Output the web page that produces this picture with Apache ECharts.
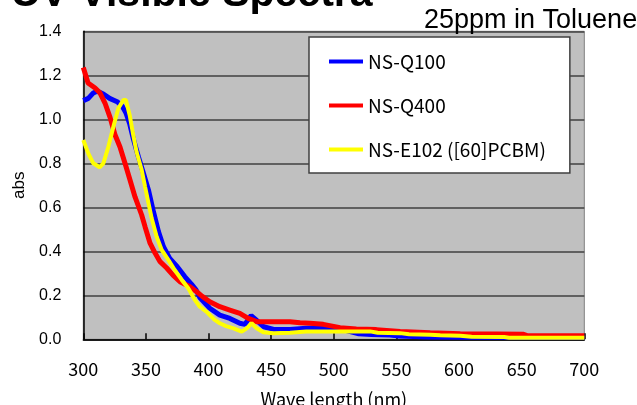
<!DOCTYPE html>
<html>
<head>
<meta charset="utf-8">
<script src="https://cdn.jsdelivr.net/npm/echarts@6/dist/echarts.min.js"></script>
<style>
html,body{margin:0;padding:0;background:#fff;}
#chart{width:637px;height:405px;}
</style>
</head>
<body>
<div id="chart"></div>
<script>
// ---- data ----
var seriesNames = ['NS-Q100', 'NS-Q400', 'NS-E102 ([60]PCBM)'];
var xTicks = [300, 350, 400, 450, 500, 550, 600, 650, 700];
var yTicks = [0, 0.2, 0.4, 0.6, 0.8, 1.0, 1.2, 1.4];

var q100Wave = [300,304,308,311,316,321,327,331,334,337,340,344,348,352,356,360,364,369,375,381,386.5,390,393,401,409,417,425,429,434,438,444,452,465,478,492,500,510,520,530,545,552,575,600,650,700];
var q100Abs  = [1.085,1.095,1.12,1.128,1.115,1.095,1.08,1.06,1.03,0.98,0.91,0.83,0.755,0.679,0.58,0.49,0.421,0.368,0.33,0.285,0.25,0.225,0.19,0.141,0.11,0.095,0.073,0.068,0.108,0.088,0.057,0.045,0.045,0.05,0.052,0.048,0.04,0.025,0.022,0.02,0.015,0.01,0.009,0.008,0.008];

var q400Wave = [300,303.8,309.4,313.3,317.3,321.3,325.3,329.3,333.3,337.3,341.3,346.6,349.3,353.3,357.3,361.3,366.6,371.6,377.2,385.2,390.5,395,401,409,417,425,431.7,438.4,451.7,465,473,481,491.6,505,518,534,553,577,601,630,651,655,700];
var q400Abs  = [1.235,1.165,1.142,1.12,1.074,1.01,0.93,0.874,0.80,0.724,0.647,0.565,0.512,0.437,0.392,0.353,0.324,0.292,0.262,0.239,0.216,0.195,0.171,0.148,0.133,0.118,0.095,0.08,0.08,0.08,0.075,0.073,0.068,0.053,0.047,0.044,0.036,0.03,0.025,0.024,0.023,0.016,0.016];

var e102Wave = [300,304,308,313,316,320,324,328,332,334,337,339.5,342.6,346.6,349.3,352,354.6,358.6,362.6,368,373,378.6,383.8,386,389,393,398.5,401,405,409,414,420,426.5,430.5,434.4,438.4,443.7,451.7,465,478,492,505,529,535,553,560,577,585,601,610,636,640,700];
var e102Abs  = [0.906,0.845,0.80,0.782,0.80,0.875,0.966,1.05,1.088,1.088,1.02,0.94,0.85,0.77,0.694,0.62,0.55,0.466,0.406,0.36,0.315,0.27,0.232,0.21,0.179,0.148,0.125,0.11,0.088,0.073,0.06,0.05,0.035,0.05,0.073,0.05,0.032,0.027,0.03,0.035,0.035,0.036,0.036,0.03,0.028,0.023,0.021,0.018,0.016,0.012,0.01,0.007,0.007];

function pairs(xs, ys) { return xs.map(function (x, i) { return [x, ys[i]]; }); }

var chart = echarts.init(document.getElementById('chart'), null, {renderer: 'canvas'});
var option = {
  animation: false,
  backgroundColor: '#ffffff',
  title: [
    {text: 'UV-Visible Spectra', left: 11, top: -26, padding: 0,
     textStyle: {fontFamily: 'Liberation Sans', fontSize: 41, fontWeight: 'bold', color: '#000'}},
    {text: '25ppm in Toluene', left: 424, top: 7, padding: 0,
     textStyle: {fontFamily: 'Liberation Sans', fontSize: 27, fontWeight: 'normal', color: '#000'}}
  ],
  grid: {left: 83.3, right: 52.7, top: 31.3, bottom: 65.7, show: true,
         outerBoundsMode: 'none', containLabel: false,
         backgroundColor: '#c0c0c0', borderColor: '#808080', borderWidth: 1},
  legend: {
    orient: 'vertical', left: 309, top: 37,
    padding: [15, 24, 14, 20], itemGap: 25, itemWidth: 34, itemHeight: 4,
    icon: 'rect',
    backgroundColor: '#ffffff', borderColor: '#404040', borderWidth: 1.5,
    textStyle: {fontFamily: 'Noto Sans CJK JP', fontSize: 19, color: '#000'},
    data: seriesNames
  },
  xAxis: {
    type: 'value', min: 300, max: 700, interval: 50,
    name: 'Wave length (nm)', nameLocation: 'middle', nameGap: 51,
    nameTextStyle: {fontFamily: 'Noto Sans CJK JP', fontSize: 18, color: '#000'},
    axisLine: {show: true, onZero: false, lineStyle: {color: '#000', width: 1.5}},
    axisTick: {show: true, inside: true, length: 6, lineStyle: {color: '#000', width: 1.5}},
    axisLabel: {fontFamily: 'Noto Sans CJK JP', fontSize: 18, color: '#000', margin: 21,
                customValues: xTicks},
    splitLine: {show: false}
  },
  yAxis: {
    type: 'value', min: 0, max: 1.4, interval: 0.2,
    name: 'abs', nameLocation: 'middle', nameGap: 55,
    nameTextStyle: {fontFamily: 'Liberation Sans', fontSize: 17, color: '#000'},
    axisLine: {show: true, lineStyle: {color: '#000', width: 1.5}},
    axisTick: {show: false},
    axisLabel: {fontFamily: 'Liberation Sans', fontSize: 16, color: '#000', margin: 22,
                formatter: function (v) { return v.toFixed(1); }},
    splitLine: {show: true, lineStyle: {color: '#404040', width: 1.5}}
  },
  series: [
    {name: seriesNames[0], type: 'line', data: pairs(q100Wave, q100Abs), symbol: 'none',
     lineStyle: {color: '#0000ff', width: 5}, itemStyle: {color: '#0000ff'}, z: 2},
    {name: seriesNames[1], type: 'line', data: pairs(q400Wave, q400Abs), symbol: 'none',
     lineStyle: {color: '#ff0000', width: 5}, itemStyle: {color: '#ff0000'}, z: 3},
    {name: seriesNames[2], type: 'line', data: pairs(e102Wave, e102Abs), symbol: 'none',
     lineStyle: {color: '#ffff00', width: 4}, itemStyle: {color: '#ffff00'}, z: 4}
  ]
};
chart.setOption(option);
</script>
</body>
</html>
